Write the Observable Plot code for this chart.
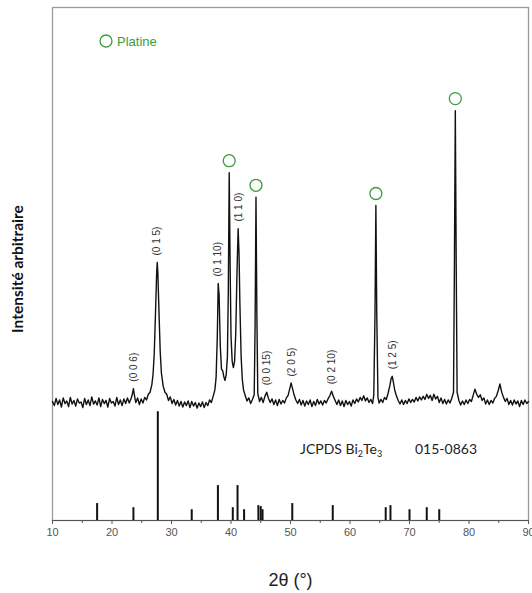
<!DOCTYPE html>
<html><head><meta charset="utf-8">
<script src="https://cdn.jsdelivr.net/npm/d3@7"></script>
<script src="https://cdn.jsdelivr.net/npm/@observablehq/plot@0.6"></script>
<style>
html,body{margin:0;padding:0;background:#fff;}
#wrap{width:532px;height:593px;overflow:hidden;}
</style></head>
<body><div id="wrap"></div>
<script>
// Measured XRD scan: [2θ (°), intensity (arbitrary units)]
const scan = [
[10.0,23.2],[10.3,22.4],[10.6,23.8],[10.9,22.6],[11.2,23.5],[11.5,22.1],[11.8,23.9],[12.1,22.8],[12.4,23.3],[12.7,22.2],
[13.0,24.0],[13.3,22.7],[13.6,23.4],[13.9,22.3],[14.2,23.7],[14.5,22.9],[14.8,23.1],[15.1,22.0],[15.4,23.8],[15.7,22.6],
[16.0,23.5],[16.3,22.4],[16.6,24.1],[16.9,22.7],[17.2,23.3],[17.5,22.5],[17.8,23.9],[18.1,22.2],[18.4,23.6],[18.7,22.8],
[19.0,23.4],[19.3,22.1],[19.6,23.8],[19.9,22.9],[20.2,23.2],[20.5,22.3],[20.8,24.0],[21.1,22.6],[21.4,23.5],[21.7,22.4],
[22.0,23.7],[22.3,22.8],[22.6,23.9],[22.9,22.9],[23.2,23.8],[23.4,24.5],[23.6,25.7],[23.8,24.2],[24.0,23.0],[24.3,23.9],
[24.6,22.6],[24.9,23.7],[25.2,22.9],[25.5,24.0],[25.8,23.5],[26.1,24.6],[26.4,25.0],[26.7,26.5],[26.9,28.5],[27.1,32.5],
[27.3,40.0],[27.5,48.0],[27.6,50.3],[27.7,48.5],[27.9,40.5],[28.1,33.0],[28.3,28.8],[28.6,26.2],[28.9,25.0],[29.2,24.6],
[29.5,23.4],[29.8,24.1],[30.1,22.8],[30.4,23.6],[30.7,22.5],[31.0,23.4],[31.3,22.3],[31.6,23.2],[31.9,22.1],[32.2,23.1],
[32.5,22.4],[32.8,23.3],[33.1,22.0],[33.4,23.2],[33.7,22.3],[34.0,23.0],[34.3,21.9],[34.6,22.9],[34.9,22.2],[35.2,23.1],
[35.5,22.0],[35.8,23.0],[36.1,22.4],[36.4,23.5],[36.7,23.0],[37.0,24.2],[37.3,25.5],[37.5,28.0],[37.7,36.0],[37.85,46.2],
[38.0,44.0],[38.2,34.0],[38.4,29.5],[38.6,29.2],[38.8,28.0],[39.0,27.3],[39.2,28.5],[39.4,32.0],[39.55,45.0],[39.7,67.8],
[39.85,50.0],[40.0,36.0],[40.2,31.0],[40.4,29.8],[40.6,31.0],[40.8,36.5],[41.0,48.0],[41.2,56.9],[41.35,52.0],[41.5,42.0],
[41.7,32.0],[41.9,27.5],[42.1,25.5],[42.4,24.3],[42.7,23.3],[43.0,23.9],[43.3,22.8],[43.6,23.6],[43.9,24.5],[44.05,38.0],
[44.2,63.0],[44.35,40.0],[44.5,24.8],[44.8,23.2],[45.1,24.0],[45.4,23.0],[45.7,24.2],[46.0,25.0],[46.3,23.8],[46.6,23.0],
[46.9,23.7],[47.2,22.6],[47.5,23.5],[47.8,22.4],[48.1,23.6],[48.4,22.7],[48.7,23.4],[49.0,22.9],[49.3,23.9],[49.6,24.4],
[49.9,25.8],[50.1,26.8],[50.3,25.9],[50.6,24.5],[50.9,23.5],[51.2,22.8],[51.5,23.6],[51.8,22.5],[52.1,23.4],[52.4,22.3],
[52.7,23.3],[53.0,22.6],[53.3,23.5],[53.6,22.2],[53.9,23.2],[54.2,22.4],[54.5,23.6],[54.8,22.7],[55.1,23.3],[55.4,22.5],
[55.7,23.4],[56.0,22.9],[56.3,23.7],[56.6,24.3],[56.9,25.2],[57.2,24.2],[57.5,23.4],[57.8,22.6],[58.1,23.5],[58.4,22.4],
[58.7,23.3],[59.0,22.2],[59.3,23.4],[59.6,22.6],[59.9,23.2],[60.2,22.3],[60.5,23.5],[60.8,22.8],[61.1,23.7],[61.4,23.1],
[61.7,24.0],[62.0,23.4],[62.3,24.3],[62.6,23.3],[62.9,23.9],[63.2,23.0],[63.5,23.6],[63.8,22.8],[64.0,24.5],[64.2,40.0],
[64.35,61.4],[64.5,40.0],[64.7,24.0],[64.9,22.9],[65.2,23.6],[65.5,23.0],[65.8,24.0],[66.1,23.6],[66.4,24.8],[66.7,26.3],
[66.9,27.6],[67.1,28.1],[67.3,26.9],[67.5,25.5],[67.8,24.3],[68.1,23.4],[68.4,22.7],[68.7,23.5],[69.0,22.6],[69.3,23.4],
[69.6,22.8],[69.9,23.7],[70.2,23.0],[70.5,23.6],[70.8,23.1],[71.1,24.0],[71.4,23.3],[71.7,24.1],[72.0,23.5],[72.3,24.2],
[72.6,23.6],[72.9,24.6],[73.2,23.8],[73.5,24.4],[73.8,23.4],[74.1,24.6],[74.4,23.7],[74.7,24.2],[75.0,23.0],[75.3,23.9],
[75.6,22.8],[75.9,23.6],[76.2,22.7],[76.5,23.5],[76.8,22.9],[77.1,23.8],[77.4,25.0],[77.55,50.0],[77.7,79.9],[77.85,50.0],
[78.0,25.0],[78.3,23.4],[78.6,22.5],[78.9,23.3],[79.2,22.6],[79.5,23.5],[79.8,22.8],[80.1,23.6],[80.4,23.2],[80.7,24.4],
[81.0,25.6],[81.3,24.6],[81.6,24.0],[81.9,24.5],[82.2,23.4],[82.5,23.9],[82.8,22.7],[83.1,23.5],[83.4,22.6],[83.7,23.4],
[84.0,22.9],[84.3,23.8],[84.6,24.2],[84.9,25.3],[85.2,26.6],[85.5,25.0],[85.8,24.0],[86.1,23.2],[86.4,23.8],[86.7,22.6],
[87.0,23.4],[87.3,22.5],[87.6,23.5],[87.9,22.7],[88.2,23.3],[88.5,22.2],[88.8,23.4],[89.1,22.6],[89.4,23.5],[89.7,22.8],
[90.0,23.2]
];

// Bi2Te3 indexed peaks (label, 2θ, peak intensity)
const hklLabels = ["(0 0 6)","(0 1 5)","(0 1 10)","(1 1 0)","(0 0 15)","(2 0 5)","(0 2 10)","(1 2 5)"];
const hklAngles = [23.6, 27.6, 37.85, 41.25, 46.0, 50.3, 57.0, 67.2];
const hklHeights = [25.7, 50.3, 46.2, 56.9, 25.0, 26.7, 25.2, 28.1];

// Platinum peaks (2θ, peak intensity)
const ptAngles = [39.7, 44.2, 64.35, 77.7];
const ptHeights = [67.8, 63.0, 61.4, 79.9];

// JCPDS 015-0863 reference sticks (2θ, intensity in same arbitrary units)
const refAngles = [17.5, 23.6, 27.7, 33.4, 37.8, 40.3, 41.1, 42.2, 44.6, 45.0, 45.3, 50.3, 57.1, 66.0, 66.8, 70.0, 72.9, 75.0];
const refHeights = [3.3, 2.5, 21.2, 2.1, 6.8, 2.5, 6.8, 2.1, 2.9, 2.7, 2.1, 3.3, 2.9, 2.5, 2.9, 2.1, 2.5, 2.1];

const majorTicks = [10, 20, 30, 40, 50, 60, 70, 80, 90];
const minorTicks = [15, 25, 35, 45, 55, 65, 75, 85];

const green = "#3c9c3c";

const scanData = scan.map(([t, i]) => ({t, i}));
const hkl = hklLabels.map((label, k) => ({label, t: hklAngles[k], i: hklHeights[k]}));
const pt = ptAngles.map((t, k) => ({t, i: ptHeights[k]}));
const ref = refAngles.map((t, k) => ({t, i: refHeights[k]}));

const chart = Plot.plot({
  width: 532, height: 593,
  marginTop: 7, marginBottom: 73, marginLeft: 52, marginRight: 4,
  x: {domain: [10, 90]},
  y: {domain: [0, 100], axis: null},
  style: {fontFamily: "'Liberation Sans', Arial, sans-serif", background: "#fff", overflow: "visible"},
  marks: [
    Plot.frame({stroke: "#9a9a9a", strokeWidth: 1.3}),
    Plot.ruleX(ref, {x: "t", y1: 0, y2: "i", stroke: "#111", strokeWidth: 2}),
    Plot.lineY(scanData, {x: "t", y: "i", stroke: "#111", strokeWidth: 1.4}),
    Plot.ruleY([0], {stroke: "#555", strokeWidth: 1.2}),
    Plot.axisX({ticks: majorTicks, tickSize: 4, tickPadding: 4, fontSize: 11, color: "#555", label: null}),
    Plot.axisX({ticks: minorTicks, tickSize: 3, tickFormat: () => "", color: "#555", label: null}),
    Plot.text(hkl, {x: "t", y: "i", text: "label", rotate: -90, textAnchor: "start", dy: -7, fontSize: 10, fill: "#333"}),
    Plot.dot(pt, {x: "t", y: "i", r: 6, stroke: green, strokeWidth: 1.3, fill: "none", dy: -12}),
    Plot.text(["2θ (°)"], {frameAnchor: "bottom", lineAnchor: "middle", textAnchor: "middle", dy: 60, fontSize: 18, fill: "#222"}),
    Plot.text(["Intensité arbitraire"], {frameAnchor: "left", textAnchor: "middle", lineAnchor: "middle", dx: -34, dy: 5, rotate: -90, fontWeight: "bold", fontFamily: "Lato", fontSize: 15.5, fill: "#111"})
  ]
});

// Annotations: legend and reference card label
const svg = d3.select(chart);
svg.append("circle").attr("cx", 106).attr("cy", 41).attr("r", 6)
  .attr("fill", "none").attr("stroke", green).attr("stroke-width", 1.3);
svg.append("text").attr("x", 117).attr("y", 45.5).attr("text-anchor", "start")
  .attr("font-family", "'Liberation Sans', Arial, sans-serif").attr("font-size", 13)
  .attr("fill", green).text("Platine");

const card = svg.append("text").attr("x", 300).attr("y", 454).attr("text-anchor", "start")
  .attr("font-family", "Lato, sans-serif").attr("font-size", 14).attr("fill", "#222");
card.append("tspan").text("JCPDS Bi");
card.append("tspan").attr("font-size", 9).attr("dy", 3).text("2");
card.append("tspan").attr("dy", -3).text("Te");
card.append("tspan").attr("font-size", 9).attr("dy", 3).text("3");
svg.append("text").attr("x", 415).attr("y", 454).attr("text-anchor", "start")
  .attr("font-family", "Lato, sans-serif").attr("font-size", 14).attr("fill", "#222")
  .text("015-0863");

document.getElementById("wrap").appendChild(chart);
</script>
</body></html>
